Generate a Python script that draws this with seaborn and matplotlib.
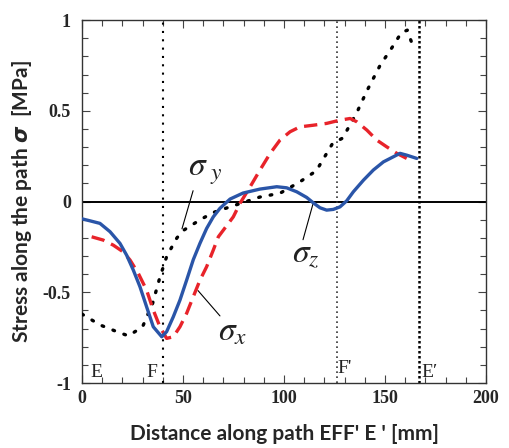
import numpy as np
import pandas as pd
import matplotlib
matplotlib.use("Agg")
import matplotlib.pyplot as plt
from matplotlib.ticker import MultipleLocator
import seaborn as sns

sns.set_style("ticks")
plt.rcParams["mathtext.fontset"] = "stix"
plt.rcParams["mathtext.it"] = "DejaVu Sans:italic:bold"

# sigma_z (blue solid)
z_x = [0, 4, 8.9, 13.9, 18.8, 22.1, 25.4, 28.7, 32, 35.3, 39.5, 41.9, 45.2, 48.5, 51.8, 55.1, 58.4, 61.7, 65, 68.3,
       73.3, 79.7, 88.1, 96.4, 101.3, 106.3, 111.2, 114.5, 117.8, 121.1, 124.4, 127.7, 131,
       134.3, 139.3, 144.2, 149.2, 154.1, 157.4, 160.7, 165.7]
z_s = [-0.095, -0.106, -0.12, -0.166, -0.23, -0.295, -0.377, -0.469, -0.58, -0.69, -0.745, -0.717, -0.635, -0.543,
       -0.433, -0.32, -0.23, -0.148, -0.084, -0.037,
       0.014, 0.047, 0.069, 0.082, 0.076, 0.054, 0.023, -0.007, -0.034, -0.047, -0.043, -0.029, 0.004,
       0.054, 0.118, 0.174, 0.219, 0.247, 0.266, 0.256, 0.238]

# sigma_x (red dashed)
x_x = [4.8, 10.5, 15.5, 20.4, 23.8, 27.9, 32, 35.3, 38.6, 41.9, 45.2, 48.5, 51.8, 55.1, 58.4, 61.7, 65, 67.5,
       74.9, 78.2, 83.2, 88.1, 93.1, 98, 103, 107.9, 114.5, 121.1, 127.7, 132.7,
       136, 141, 145.9, 150.8, 155.8, 160.7]
x_s = [-0.194, -0.212, -0.240, -0.277, -0.322, -0.396, -0.488, -0.598, -0.690, -0.754, -0.745, -0.690, -0.616,
       -0.524, -0.433, -0.359, -0.267, -0.194,
       -0.084, -0.01, 0.081, 0.174, 0.265, 0.339, 0.385, 0.412, 0.421, 0.431, 0.449, 0.458,
       0.44, 0.394, 0.339, 0.302, 0.266, 0.238]

# sigma_y (black dotted)
y_x = [0, 9, 18, 23, 30, 35, 38.5, 42, 47, 50, 58.5, 65, 73, 88, 98, 108, 116, 124, 129, 136, 141, 147.5, 153.5, 158, 161, 164]
y_s = [-0.62, -0.68, -0.72, -0.74, -0.69, -0.56, -0.42, -0.30, -0.20, -0.16, -0.10, -0.06, -0.03, 0.025, 0.046,
       0.11, 0.17, 0.32, 0.35, 0.49, 0.61, 0.75, 0.85, 0.93, 0.945, 0.85]

points = [40, 126, 166.7]
point_names = ["E", "F", "F'", "E\u2032"]

x_ticks = [0, 50, 100, 150, 200]
y_ticks = [-1, -0.5, 0, 0.5, 1]
y_tick_labels = ["-1", "-0.5", "0", "0.5", "1"]

df_z = pd.DataFrame({"d": z_x, "s": z_s})
df_x = pd.DataFrame({"d": x_x, "s": x_s})
df_y = pd.DataFrame({"d": y_x, "s": y_s})

fig = plt.figure(figsize=(5.09, 4.48), dpi=100)
ax = fig.add_axes([0.161, 0.145, 0.794, 0.81])

ax.axhline(0, color="black", lw=1.4, zorder=1)
ax.axvline(points[0], color="black", lw=1.5, ls=(0, (1, 3)), zorder=1)
ax.axvline(points[1], color="#333333", lw=1.2, ls=(0, (1, 2)), zorder=1)
ax.axvline(points[2], color="black", lw=1.8, ls=(0, (1, 1)), zorder=1)

sns.lineplot(data=df_y, x="d", y="s", ax=ax, color="black", lw=2.4,
             linestyle=(0, (0.5, 3.0)), dash_capstyle="round", zorder=3, sort=False)
sns.lineplot(data=df_x, x="d", y="s", ax=ax, color="#e8232a", lw=2.4,
             linestyle=(0, (4, 2.2)), zorder=4, sort=False)
sns.lineplot(data=df_z, x="d", y="s", ax=ax, color="#2a55a8", lw=2.4, zorder=5, sort=False)

ax.set_xlim(0, 200)
ax.set_ylim(-1, 1)
tick_font = dict(fontfamily="Liberation Serif", fontweight="bold", fontsize=13)
ax.set_xticks(x_ticks, [str(v) for v in x_ticks], **tick_font)
ax.set_yticks(y_ticks, y_tick_labels, **tick_font)
ax.xaxis.set_minor_locator(MultipleLocator(10))
ax.yaxis.set_minor_locator(MultipleLocator(0.1))
ax.tick_params(which="both", direction="in", top=True, right=True, color="#444444")
ax.tick_params(which="major", length=6, width=0.8)
ax.tick_params(axis="y", which="major", pad=8)
ax.tick_params(axis="x", which="major", pad=5)
ax.tick_params(which="minor", length=4, width=0.8)
for sp in ax.spines.values():
    sp.set_linewidth(1.0)
    sp.set_color("#333333")

ax.set_xlabel("Distance along path EFF' E ' [mm]", fontfamily="Lato",
              fontweight="bold", fontsize=15, labelpad=12)
ax.set_ylabel("Stress along the path $\\mathit{\\sigma}$  [MPa]", fontfamily="Lato",
              fontweight="bold", fontsize=15, labelpad=6, math_fontfamily="custom")

# point labels
serif = dict(fontfamily="Liberation Serif", fontsize=14, color="#222222", va="baseline")
ax.text(4, -0.965, point_names[0], **serif)
ax.text(32, -0.965, point_names[1], **serif)
ax.text(126.5, -0.945, point_names[2], **serif)
ax.text(168, -0.965, point_names[3], **serif)

# curve labels with leader lines
lab = dict(fontsize=24, color="#222222", va="baseline", math_fontfamily="stix")
ax.text(52.5, 0.146, "$\\sigma_{\\ y}$", **lab)
ax.plot([55, 49.5], [0.06, -0.15], color="black", lw=0.8)
ax.text(67.3, -0.763, "$\\sigma_{x}$", **lab)
ax.plot([57.4, 68.3], [-0.49, -0.63], color="black", lw=0.8)
ax.text(104, -0.333, "$\\sigma_{z}$", **lab)
ax.plot([114.4, 109.4], [-0.01, -0.21], color="black", lw=0.8)

fig.savefig("out.png", dpi=100)
